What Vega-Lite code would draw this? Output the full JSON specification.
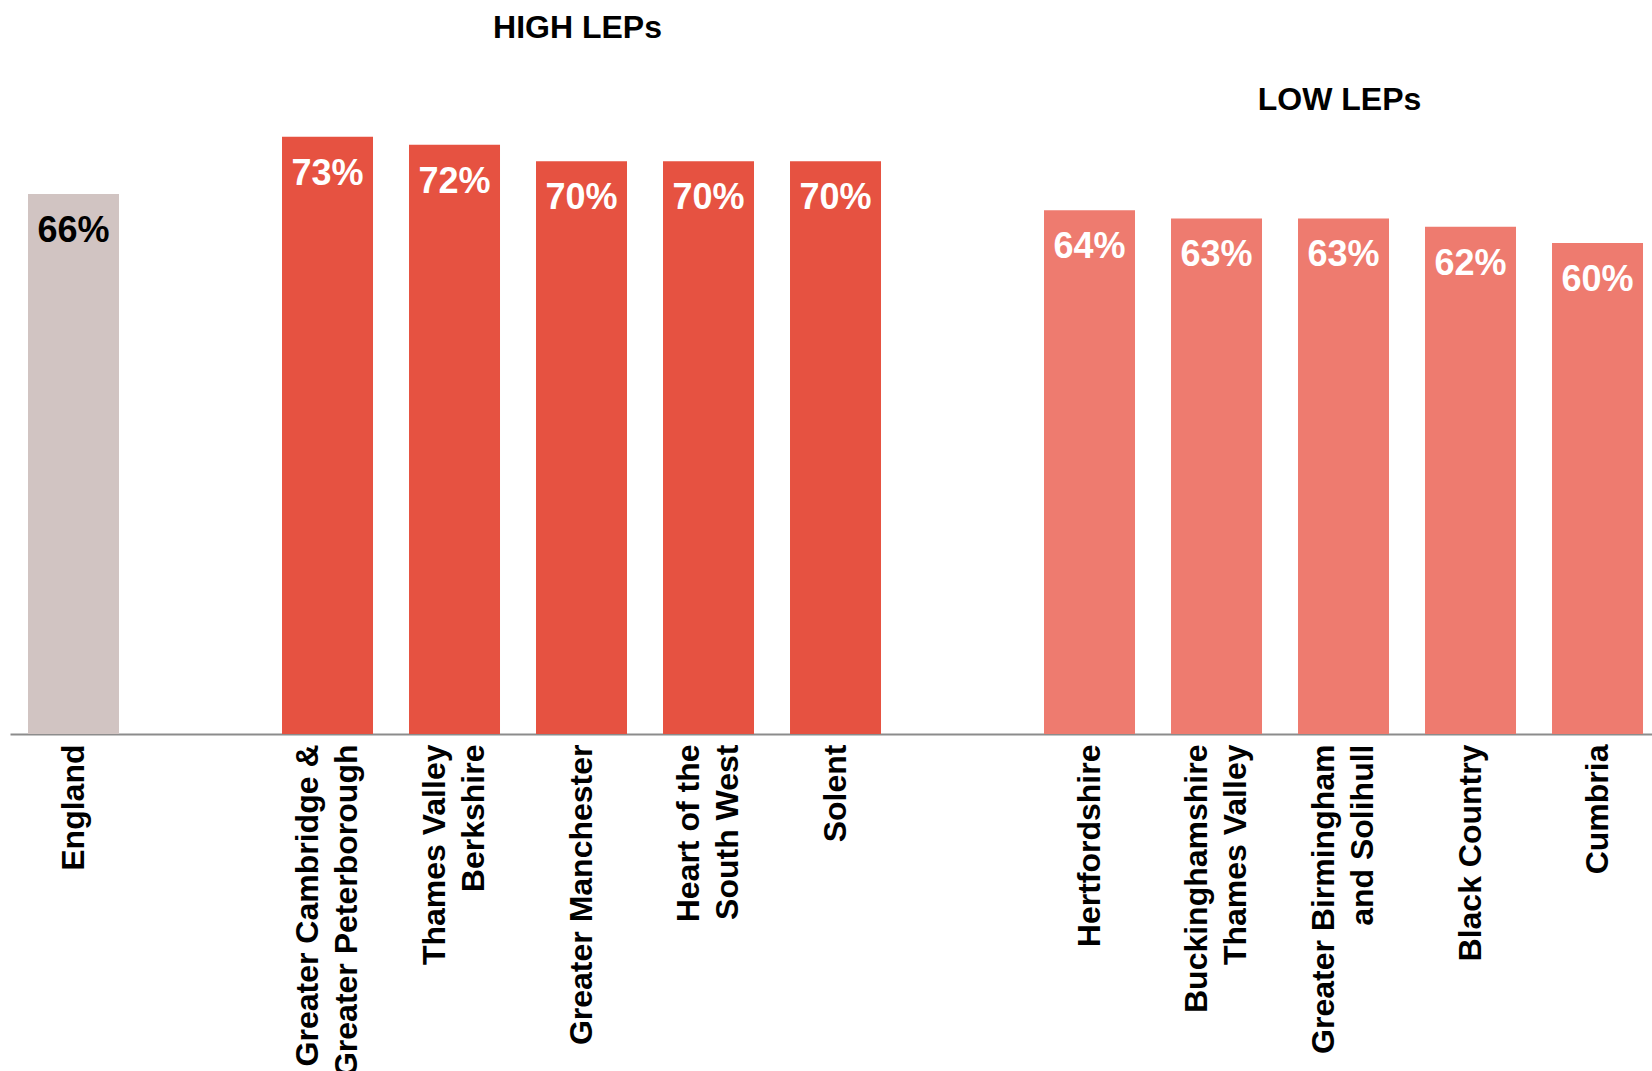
{
  "$schema": "https://vega.github.io/schema/vega-lite/v6.json",
  "width": 1642,
  "height": 734,
  "autosize": {"type": "none"},
  "padding": {"left": 10, "top": 0, "right": 0, "bottom": 337},
  "background": "white",
  "config": {"view": {"stroke": null}, "font": "Liberation Sans"},
  "datasets": {
    "bars": [
      {"area": "England", "group": "England", "value": 0.66},
      {"area": "Greater Cambridge &\nGreater Peterborough", "group": "High", "value": 0.73},
      {"area": "Thames Valley\nBerkshire", "group": "High", "value": 0.72},
      {"area": "Greater Manchester", "group": "High", "value": 0.70},
      {"area": "Heart of the\nSouth West", "group": "High", "value": 0.70},
      {"area": "Solent", "group": "High", "value": 0.70},
      {"area": "Hertfordshire", "group": "Low", "value": 0.64},
      {"area": "Buckinghamshire\nThames Valley", "group": "Low", "value": 0.63},
      {"area": "Greater Birmingham\nand Solihull", "group": "Low", "value": 0.63},
      {"area": "Black Country", "group": "Low", "value": 0.62},
      {"area": "Cumbria", "group": "Low", "value": 0.60}
    ],
    "notes": [
      {"area": "Greater Manchester", "label": "HIGH LEPs", "value": 0.85},
      {"area": "Greater Birmingham\nand Solihull", "label": "LOW LEPs", "value": 0.763}
    ]
  },
  "encoding": {
    "x": {
      "field": "area",
      "type": "nominal",
      "sort": null,
      "scale": {
        "domain": ["England", "gap1", "Greater Cambridge &\nGreater Peterborough", "Thames Valley\nBerkshire", "Greater Manchester", "Heart of the\nSouth West", "Solent", "gap2", "Hertfordshire", "Buckinghamshire\nThames Valley", "Greater Birmingham\nand Solihull", "Black Country", "Cumbria"],
        "paddingInner": 0.2835,
        "paddingOuter": 0.1063,
        "align": 0.667
      },
      "axis": {
        "title": null,
        "labelExpr": "(datum.label == 'gap1' || datum.label == 'gap2') ? '' : split(datum.label, '\\n')",
        "labelAngle": -90,
        "labelAlign": "right",
        "labelBaseline": "middle",
        "labelFont": "Liberation Sans",
        "labelFontWeight": "bold",
        "labelFontSize": 32,
        "labelLineHeight": 39,
        "labelColor": "black",
        "labelPadding": 10,
        "labelOffset": {"condition": {"test": "indexof(datum.value, '\\n') >= 0", "value": -19.5}, "value": 0},
        "labelLimit": 0,
        "labelOverlap": false,
        "labelFlush": false,
        "labelBound": false,
        "ticks": false,
        "domainColor": "#8c8c8c",
        "domainWidth": 2,
        "grid": false
      }
    },
    "y": {
      "field": "value",
      "type": "quantitative",
      "scale": {"domain": [0, 0.897], "nice": false, "zero": true},
      "axis": null
    }
  },
  "layer": [
    {
      "data": {"name": "bars"},
      "mark": {"type": "bar"},
      "encoding": {
        "color": {
          "field": "group",
          "type": "nominal",
          "scale": {"domain": ["England", "High", "Low"], "range": ["#D1C4C2", "#E65241", "#EE7B6F"]},
          "legend": null
        }
      }
    },
    {
      "data": {"name": "bars"},
      "mark": {"type": "text", "baseline": "alphabetic", "align": "center", "dy": 48, "font": "Liberation Sans", "fontWeight": "bold", "fontSize": 36},
      "encoding": {
        "text": {"field": "value", "type": "quantitative", "format": ".0%"},
        "color": {"condition": {"test": "datum.group == 'England'", "value": "black"}, "value": "white"}
      }
    },
    {
      "data": {"name": "notes"},
      "mark": {"type": "text", "baseline": "alphabetic", "align": "center", "dx": -4, "font": "Liberation Sans", "fontWeight": "bold", "fontSize": 32, "color": "black"},
      "encoding": {
        "text": {"field": "label", "type": "nominal"}
      }
    }
  ]
}
